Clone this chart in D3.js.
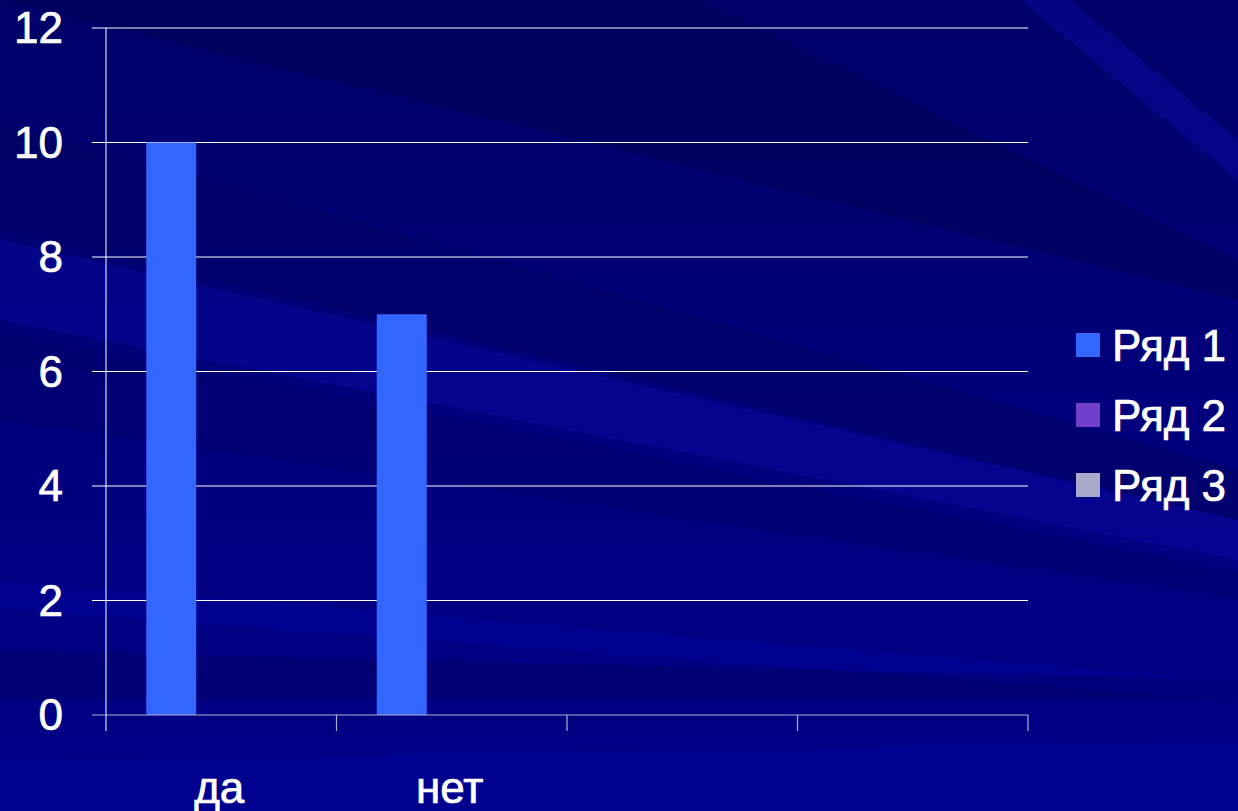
<!DOCTYPE html>
<html><head><meta charset="utf-8">
<script src="https://cdn.jsdelivr.net/npm/d3@7"></script>
<style>html,body{margin:0;padding:0;background:#00007a;overflow:hidden}</style>
</head><body>
<svg id="c" width="1238" height="811"></svg>
<script>
const categories = ["да", "нет", "", ""];
const seriesNames = ["Ряд 1", "Ряд 2", "Ряд 3"];
const series1 = [10, 7, null, null];
const series2 = [null, null, null, null];
const series3 = [null, null, null, null];
const yTicks = [0, 2, 4, 6, 8, 10, 12];
const seriesColors = ["#3366ff", "#7040cc", "#a8aacb"];

(function () {
const svg = d3.select("#c");
const W = 1238, H = 811;
const font = "'Liberation Sans', Arial, sans-serif";

// background
const defs = svg.append("defs");
const bg = defs.append("linearGradient").attr("id","bg").attr("x1",0).attr("y1",0).attr("x2",0).attr("y2",1);
bg.append("stop").attr("offset","0%").attr("stop-color","#000068");
bg.append("stop").attr("offset","50%").attr("stop-color","#00007c");
bg.append("stop").attr("offset","100%").attr("stop-color","#000088");
svg.append("rect").attr("width",W).attr("height",H).attr("fill","url(#bg)");
const rays = [
  {p:[[0,0],[700,0],[1238,260],[1238,300]], c:"#000058", o:0.6},
  {p:[[0,120],[0,230],[1238,520],[1238,470]], c:"#000060", o:0.5},
  {p:[[0,240],[0,320],[1238,560],[1238,520]], c:"#0a0aa8", o:0.4},
  {p:[[0,330],[0,420],[1238,600],[1238,570]], c:"#000066", o:0.35},
  {p:[[1020,0],[1070,0],[1238,140],[1238,180]], c:"#0a0aa0", o:0.5},
  {p:[[0,580],[0,610],[1238,700],[1238,680]], c:"#0000a0", o:0.4},
  {p:[[0,650],[0,700],[1238,700],[1238,680]], c:"#000060", o:0.4},
  {p:[[0,760],[0,811],[1238,811],[1238,740]], c:"#000098", o:0.5}
];
svg.selectAll("polygon.ray").data(rays).enter().append("polygon")
  .attr("points", d => d.p.map(q => q.join(",")).join(" "))
  .attr("fill", d => d.c).attr("opacity", d => d.o);

const pl = 106, pr = 1028, pt = 28, pb = 715;
const x = d3.scaleBand().domain(d3.range(categories.length)).range([pl, pr]).padding(0);
const x1 = d3.scaleBand().domain(d3.range(seriesNames.length)).range([0, 150]);
const y = d3.scaleLinear().domain([0, 12]).range([pb, pt]);

// gridlines
svg.append("g").selectAll("line").data(yTicks.filter(t => t > 0)).enter().append("line")
  .attr("x1", 92).attr("x2", pr).attr("y1", d => y(d)).attr("y2", d => y(d))
  .attr("stroke", "#ffffff").attr("stroke-width", 1);

// y tick labels
svg.append("g").selectAll("text").data(yTicks).enter().append("text")
  .attr("x", 63).attr("y", d => y(d)).attr("dy", "0.35em").attr("text-anchor", "end")
  .attr("font-family", font).attr("font-size", 44).attr("fill", "#ffffff")
  .attr("stroke", "#ffffff").attr("stroke-width", 0.7).text(d => d);

// bars
const allSeries = [series1, series2, series3];
allSeries.forEach((vals, si) => {
  svg.append("g").selectAll("rect").data(vals.map((v, i) => ({v, i})).filter(d => d.v != null)).enter().append("rect")
    .attr("x", d => x(d.i) + (x.bandwidth() - 150) / 2 + x1(si))
    .attr("width", x1.bandwidth())
    .attr("y", d => y(d.v)).attr("height", d => y(0) - y(d.v))
    .attr("fill", seriesColors[si]);
});

// axes
svg.append("line").attr("x1", pl).attr("x2", pl).attr("y1", pt).attr("y2", 731)
  .attr("stroke", "#ffffff").attr("stroke-width", 1);
svg.append("line").attr("x1", 92).attr("x2", pr).attr("y1", pb).attr("y2", pb)
  .attr("stroke", "#b0b0c8").attr("stroke-width", 1.2);
svg.append("g").selectAll("line").data(d3.range(1, categories.length + 1)).enter().append("line")
  .attr("x1", d => pl + d * x.bandwidth()).attr("x2", d => pl + d * x.bandwidth())
  .attr("y1", pb).attr("y2", 731).attr("stroke", "#b0b0c8").attr("stroke-width", 1.2);

// category labels
svg.append("g").selectAll("text").data(categories).enter().append("text")
  .attr("x", (d, i) => x(i) + x.bandwidth() / 2 - 2).attr("y", 803).attr("text-anchor", "middle")
  .attr("font-family", font).attr("font-size", 44).attr("fill", "#ffffff")
  .attr("stroke", "#ffffff").attr("stroke-width", 0.7).text(d => d);

// legend
const lg = svg.append("g").selectAll("g").data(seriesNames).enter().append("g")
  .attr("transform", (d, i) => `translate(1076, ${345 + i * 70})`);
lg.append("rect").attr("x", 0).attr("y", -12).attr("width", 24).attr("height", 24)
  .attr("fill", (d, i) => seriesColors[i]);
lg.append("text").attr("x", 36).attr("y", 0).attr("dy", "0.36em")
  .attr("font-family", font).attr("font-size", 44).attr("fill", "#ffffff")
  .attr("stroke", "#ffffff").attr("stroke-width", 0.7).text(d => d);
})();
</script>
</body></html>
